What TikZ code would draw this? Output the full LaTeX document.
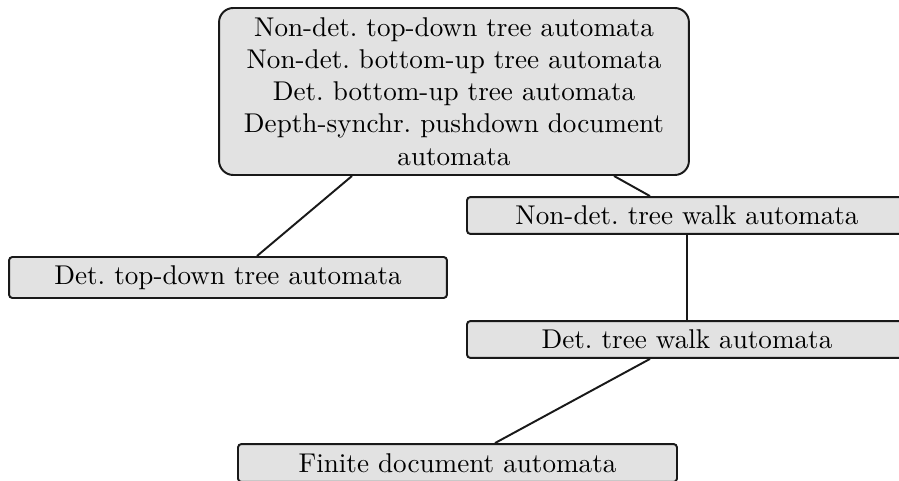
\documentclass[tikz,border=0pt]{standalone}
\definecolor{boxgray}{HTML}{E2E2E2}
\tikzset{
  boxbase/.style={draw=black!90, fill=boxgray, line width=0.75pt, inner sep=0pt, align=center, font=\fontsize{10.45}{12.4}\selectfont},
  smallbox/.style={boxbase, rounded corners=1.3pt},
  bigbox/.style={boxbase, rounded corners=5.5pt},
  link/.style={draw=black!90, line width=0.75pt}
}
\begin{document}
\begin{tikzpicture}[x=0.385pt, y=-0.385pt]
\useasboundingbox (0,0) rectangle (899,481);
\clip (0,0) rectangle (899,481);
\node[bigbox, minimum width=180.9pt, minimum height=64.3pt] (top) at (454,91.5)
  {Non-det.\ top-down tree automata\\
   Non-det.\ bottom-up tree automata\\
   Det.\ bottom-up tree automata\\
   Depth-synchr.\ pushdown document\\
   automata};
\node[smallbox, minimum width=168.6pt, minimum height=15.8pt] (dtd) at (228,277.5) {Det.\ top-down tree automata};
\node[smallbox, minimum width=169.4pt, minimum height=14.2pt] (ndtw) at (687,215.5) {Non-det.\ tree walk automata};
\node[smallbox, minimum width=169.4pt, minimum height=14.2pt] (dtw) at (687,339.5) {Det.\ tree walk automata};
\node[smallbox, minimum width=169pt, minimum height=14.6pt] (fda) at (457.5,463) {Finite document automata};
\draw[link] (top.south -| 352,0) -- (dtd.north -| 257,0);
\draw[link] (top.south -| 614,0) -- (ndtw.north -| 650,0);
\draw[link] (ndtw.south) -- (dtw.north);
\draw[link] (dtw.south -| 650,0) -- (fda.north -| 495,0);
\end{tikzpicture}
\end{document}
